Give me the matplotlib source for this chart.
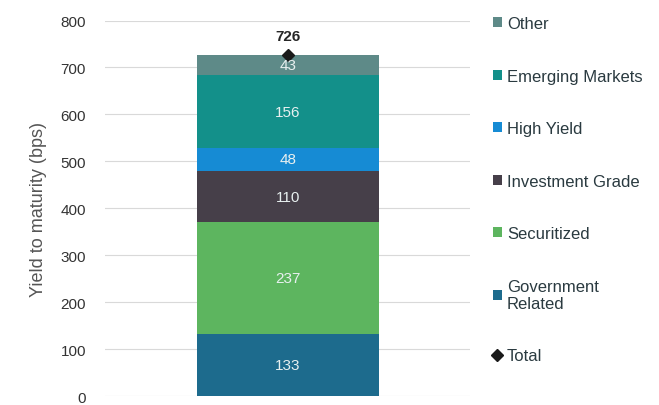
import matplotlib.pyplot as plt

plt.rcParams['font.family'] = ['Liberation Sans', 'DejaVu Sans']

# Yield contribution by sector (bps), bottom to top
sectors = ["Government\nRelated", "Securitized", "Investment Grade",
           "High Yield", "Emerging Markets", "Other"]
values = [133, 237, 110, 48, 156, 43]
total = 726
colors = ["#1d6b8d", "#5db55f", "#463f49", "#168bd4", "#13908a", "#5e8a88"]

fig = plt.figure(figsize=(6.59, 4.06), dpi=100)
ax = fig.add_axes([0.16, 0.022, 0.553, 0.925])

bottom = 0
handles = []
for name, val, col in zip(sectors, values, colors):
    b = ax.bar(0, val, width=0.5, bottom=bottom, color=col, label=name)
    ax.text(0, bottom + val / 2, str(val), ha="center", va="center",
            color="#e8f0f0", fontsize=11)
    handles.append(b)
    bottom += val

# Total marker with its label
tot, = ax.plot([0], [total], marker="D", color="#1a1a1a", markersize=6,
               linestyle="none", label="Total")
ax.annotate(str(total), (0, total), xytext=(0, 9), textcoords="offset points",
            ha="center", va="bottom", fontsize=11, fontweight="bold",
            color="#262626")

ax.set_xlim(-0.5, 0.5)
ax.set_ylim(0, 800)
ax.set_yticks(range(0, 801, 100))
ax.set_xticks([])
ax.tick_params(axis="y", length=0, pad=14, labelsize=11, labelcolor="#333333")
ax.grid(axis="y", color="#d9d9d9", linewidth=0.8)
ax.set_axisbelow(True)
for s in ax.spines.values():
    s.set_visible(False)
ax.set_ylabel("Yield to maturity (bps)", fontsize=13, color="#555555",
              labelpad=10)

leg_handles = handles[::-1] + [tot]
leg_labels = sectors[::-1] + ["Total"]
leg = fig.legend(leg_handles, leg_labels, loc="upper left",
                 bbox_to_anchor=(0.725, 0.995), frameon=False, fontsize=12,
                 handlelength=0.55, handleheight=0.55, handletextpad=0.3,
                 labelspacing=2.25, labelcolor="#2a3a40")

fig.savefig("out.png", dpi=100)
